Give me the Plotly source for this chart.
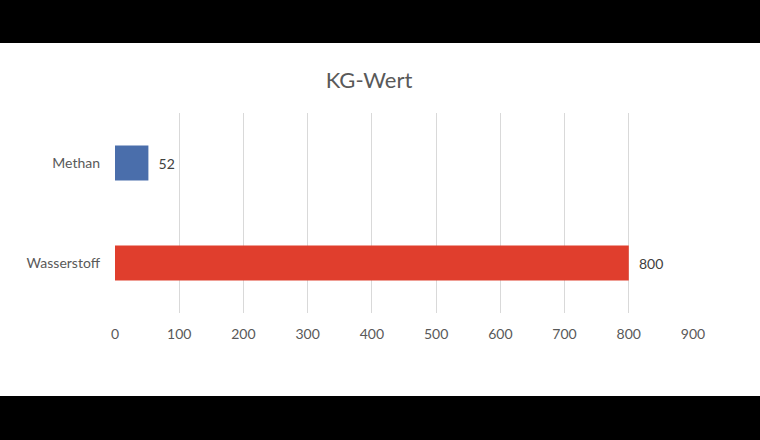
import plotly.graph_objects as go

categories = ["Wasserstoff", "Methan"]
values = [800, 52]
bar_colors = ["#e03e2d", "#4a6eab"]
x_ticks = [0, 100, 200, 300, 400, 500, 600, 700, 800, 900]

text_color = "#595959"
font_name = "Lato, Open Sans, sans-serif"

fig = go.Figure()
fig.add_trace(go.Bar(
    y=categories,
    x=values,
    orientation="h",
    marker=dict(color=bar_colors, line=dict(width=0)),
    text=["\u00a0\u00a0" + str(v) for v in values],
    textposition="outside",
    textfont=dict(size=14, color="#404040", family=font_name),
    cliponaxis=False,
    hoverinfo="skip",
))

fig.update_layout(
    width=760,
    height=440,
    margin=dict(l=115, r=67, t=113, b=127),
    paper_bgcolor="white",
    plot_bgcolor="white",
    showlegend=False,
    bargap=0.65,
    font=dict(family=font_name, color=text_color),
    title=dict(
        text="KG-Wert",
        x=369 / 760, xref="container", xanchor="center",
        y=1 - 80 / 440, yanchor="middle",
        font=dict(size=22, color=text_color, family=font_name),
    ),
    xaxis=dict(
        range=[0, 900],
        tickvals=x_ticks,
        showgrid=True,
        gridcolor="#d9d9d9",
        gridwidth=1,
        zeroline=False,
        showline=False,
        ticks="",
        ticklabelstandoff=11,
        tickfont=dict(size=14, color=text_color),
    ),
    yaxis=dict(
        showgrid=False,
        zeroline=False,
        showline=False,
        ticks="",
        ticklabelstandoff=14,
        tickfont=dict(size=14, color=text_color),
    ),
    shapes=[
        dict(type="rect", xref="paper", yref="paper", layer="above",
             x0=-0.3, x1=1.3, y0=1 + 70 / 200, y1=1.8,
             fillcolor="black", line=dict(width=0)),
        dict(type="rect", xref="paper", yref="paper", layer="above",
             x0=-0.3, x1=1.3, y0=-1.0, y1=-83 / 200,
             fillcolor="black", line=dict(width=0)),
    ],
)

# drop the default page margin so the figure sits flush in the window
fig.write_html(
    "out.html",
    config={"displayModeBar": False},
    post_script="document.body.style.margin='0';document.body.style.overflow='hidden';",
)
